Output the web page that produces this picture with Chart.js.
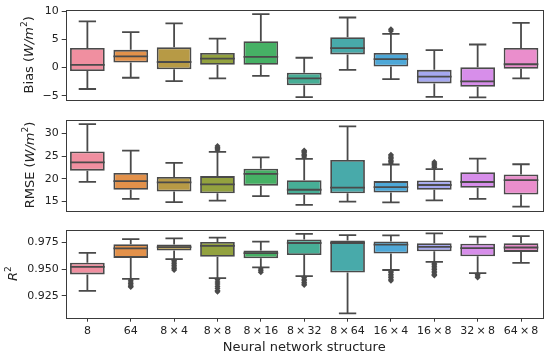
<!DOCTYPE html>
<html>
<head>
<meta charset="utf-8">
<script src="https://cdn.jsdelivr.net/npm/chart.js@4.4.0/dist/chart.umd.min.js"></script>
<style>
  body { margin: 0; background: #fff; }
  #wrap { position: relative; width: 550px; height: 359px; }
  canvas { position: absolute; left: 0; }
</style>
</head>
<body>
<div id="wrap">
  <canvas id="bias" width="550" height="110" style="top:0px"></canvas>
  <canvas id="rmse" width="550" height="110" style="top:110px"></canvas>
  <canvas id="r2" width="550" height="139" style="top:220px"></canvas>
</div>
<script>
const categories = ['8', '64', '8\u2009×\u20094', '8\u2009×\u20098', '8\u2009×\u200916', '8\u2009×\u200932',
    '8\u2009×\u200964', '16\u2009×\u20094', '16\u2009×\u20098', '32\u2009×\u20098', '64\u2009×\u20098']
const colors = ['#f08fa0', '#e3914a', '#b79a45', '#93a23f', '#46b165', '#47ae96',
    '#48aaaa', '#4ea8d8', '#a5a8f0', '#d78eea', '#ea8ecc']

// Bias (W/m2)
const biasLow = [-3.8, -1.8, -2.4, -1.9, -1.45, -5.25, -0.4, -2.05, -5.2, -5.3, -1.9]
const biasQ1 = [-0.6, 0.9, -0.3, 0.5, 0.5, -3.15, 2.35, 0.2, -2.8, -3.4, -0.2]
const biasMed = [0.5, 2.0, 1.0, 1.6, 1.9, -1.9, 3.45, 1.5, -1.6, -2.45, 0.6]
const biasQ3 = [3.5, 3.15, 3.6, 2.6, 4.7, -0.9, 5.4, 2.6, -0.4, 0.05, 3.5]
const biasHigh = [8.2, 6.3, 7.85, 5.15, 9.5, 1.75, 8.9, 6.0, 3.1, 4.1, 7.95]
const biasOut = [[], [], [], [], [], [], [], [6.5, 6.8], [], [], []]
const biasTicks = [-5, 0, 5, 10]

// RMSE (W/m2)
const rmseLow = [19.35, 15.6, 14.9, 15.2, 16.2, 14.3, 15.0, 14.85, 15.25, 15.6, 13.9]
const rmseQ1 = [21.8, 17.6, 17.2, 16.85, 18.5, 16.5, 16.85, 17.0, 17.6, 18.05, 16.55]
const rmseMed = [23.6, 19.5, 19.2, 18.8, 21.1, 17.6, 18.05, 18.2, 18.65, 19.3, 19.7]
const rmseQ3 = [26.0, 21.3, 20.4, 20.6, 22.2, 19.7, 24.15, 19.5, 19.65, 21.45, 20.95]
const rmseHigh = [32.0, 26.2, 23.5, 25.9, 24.7, 24.4, 31.5, 23.15, 22.15, 24.45, 23.2]
const rmseOut = [[], [], [], [26.3, 26.6, 26.9, 27.2], [], [24.8, 25.1, 25.4, 25.7, 26.0, 26.2], [],
    [23.5, 23.8, 24.1, 24.4, 24.7, 25.0, 25.3], [22.5, 22.8, 23.1, 23.4, 23.7], [], []]
const rmseTicks = [15, 20, 25, 30]

// R2
const r2Low = [0.9296, 0.9409, 0.9592, 0.9415, 0.9515, 0.9433, 0.9087, 0.9491, 0.9566, 0.9462, 0.9557]
const r2Q1 = [0.9450, 0.9604, 0.9672, 0.9615, 0.9601, 0.9630, 0.9468, 0.9645, 0.9666, 0.9619, 0.9660]
const r2Med = [0.9521, 0.9692, 0.9704, 0.9716, 0.9648, 0.9743, 0.9743, 0.9728, 0.9707, 0.9695, 0.9701]
const r2Q3 = [0.9559, 0.9731, 0.9728, 0.9752, 0.9672, 0.9775, 0.9766, 0.9757, 0.9740, 0.9737, 0.9740]
const r2High = [0.9651, 0.9779, 0.9787, 0.9793, 0.9755, 0.9828, 0.9817, 0.9814, 0.9832, 0.9802, 0.9808]
const r2Out = [[], [0.9395, 0.938, 0.9365, 0.935, 0.934, 0.9332],
    [0.958, 0.9565, 0.955, 0.9535, 0.952, 0.9505, 0.949],
    [0.940, 0.938, 0.936, 0.934, 0.932, 0.930, 0.9287],
    [0.950, 0.9485, 0.947],
    [0.942, 0.9405, 0.939, 0.9375, 0.936, 0.935], [],
    [0.948, 0.9465, 0.945, 0.9435, 0.942, 0.9405, 0.939],
    [0.9555, 0.954, 0.9525, 0.951, 0.9495, 0.948, 0.9465, 0.945, 0.944],
    [0.945, 0.9435, 0.942], []]
const r2Ticks = [0.925, 0.950, 0.975]

const FONT = '"DejaVu Sans", sans-serif'
const LINE = '#4a4a4a'

// whiskers, caps and medians drawn on top of the floating bars
const boxPlugin = {
    id: 'boxes',
    afterDatasetsDraw(chart, args, opts) {
        const ctx = chart.ctx
        const x = chart.scales.x, y = chart.scales.y
        const bar = chart.getDatasetMeta(0).data
        ctx.save()
        ctx.strokeStyle = LINE
        ctx.lineWidth = 1.8
        for (let i = 0; i < categories.length; i++) {
            const cx = x.getPixelForValue(i)
            const half = bar[i].width / 2
            const cap = half / 2
            const lo = y.getPixelForValue(opts.low[i]), q1 = y.getPixelForValue(opts.q1[i])
            const q3 = y.getPixelForValue(opts.q3[i]), hi = y.getPixelForValue(opts.high[i])
            const md = y.getPixelForValue(opts.med[i])
            ctx.beginPath()
            ctx.moveTo(cx, q1); ctx.lineTo(cx, lo)
            ctx.moveTo(cx, q3); ctx.lineTo(cx, hi)
            ctx.moveTo(cx - cap, lo); ctx.lineTo(cx + cap, lo)
            ctx.moveTo(cx - cap, hi); ctx.lineTo(cx + cap, hi)
            ctx.moveTo(cx - half, md); ctx.lineTo(cx + half, md)
            ctx.stroke()
        }
        ctx.restore()
    }
}

const framePlugin = {
    id: 'frame',
    afterDraw(chart) {
        const a = chart.chartArea, ctx = chart.ctx
        ctx.save()
        ctx.strokeStyle = '#3a3a3a'
        ctx.lineWidth = 1
        ctx.strokeRect(Math.round(a.left) + 0.5, Math.round(a.top) + 0.5,
            Math.round(a.right - a.left), Math.round(a.bottom - a.top))
        ctx.restore()
    }
}

// y title with italic pieces, like matplotlib mathtext
const ytitlePlugin = {
    id: 'ytitle',
    afterDraw(chart, args, opts) {
        const ctx = chart.ctx, a = chart.chartArea
        const fontOf = p => (p[1] ? 'italic ' : '') + (p[2] ? '9px ' : '13px ') + FONT
        ctx.save()
        let w = 0
        opts.parts.forEach(p => { ctx.font = fontOf(p); w += ctx.measureText(p[0]).width })
        ctx.translate(opts.x, (a.top + a.bottom) / 2)
        ctx.rotate(-Math.PI / 2)
        ctx.fillStyle = '#222'
        ctx.textBaseline = 'middle'
        let pos = -w / 2
        opts.parts.forEach(p => {
            ctx.font = fontOf(p)
            ctx.fillText(p[0], pos, p[2] ? -5 : 0)
            pos += ctx.measureText(p[0]).width
        })
        ctx.restore()
    }
}

function fmt(decimals) {
    return v => {
        const s = Math.abs(v).toFixed(decimals)
        return v < 0 ? '\u2212' + s : s
    }
}

function panel(id, p) {
    const points = []
    p.out.forEach((vals, i) => vals.forEach(v => points.push({ x: categories[i], y: v })))
    const boxes = p.q1.map((v, i) => [v, p.q3[i]])
    new Chart(document.getElementById(id), {
        type: 'bar',
        data: {
            labels: categories,
            datasets: [{
                data: boxes,
                backgroundColor: colors,
                borderColor: LINE,
                borderWidth: 1.8,
                borderSkipped: false,
                barPercentage: 0.8,
                categoryPercentage: 1
            }, {
                type: 'scatter',
                data: points,
                pointStyle: 'rectRot',
                radius: 3,
                backgroundColor: LINE,
                borderColor: LINE,
                borderWidth: 0
            }]
        },
        options: {
            responsive: false,
            animation: false,
            layout: { padding: p.padding },
            plugins: {
                legend: { display: false },
                tooltip: { enabled: false },
                boxes: { low: p.low, q1: p.q1, med: p.med, q3: p.q3, high: p.high },
                ytitle: { parts: p.title, x: p.titleX }
            },
            scales: {
                x: {
                    type: 'category',
                    display: p.showX,
                    offset: true,
                    grid: { offset: false, drawOnChartArea: false, tickLength: 4, color: '#3a3a3a' },
                    border: { display: false },
                    ticks: { font: { family: FONT, size: 11 }, color: '#222', padding: 3, maxRotation: 0, autoSkip: false },
                    title: {
                        display: p.showX, text: 'Neural network structure',
                        font: { family: FONT, size: 13 }, color: '#222', padding: { top: 0, bottom: 4 }
                    },
                    afterFit: s => { if (p.showX) s.height = 41.3 }
                },
                y: {
                    min: p.min,
                    max: p.max,
                    afterBuildTicks: s => { s.ticks = p.ticks.map(v => ({ value: v })) },
                    afterFit: s => { s.width = 65.7 },
                    grid: { drawOnChartArea: false, tickLength: 4, color: '#3a3a3a' },
                    border: { display: false },
                    ticks: { font: { family: FONT, size: 11 }, color: '#222', padding: 3, callback: fmt(p.decimals) }
                }
            }
        },
        plugins: [boxPlugin, framePlugin, ytitlePlugin]
    })
}

panel('bias', {
    low: biasLow, q1: biasQ1, med: biasMed, q3: biasQ3, high: biasHigh, out: biasOut,
    ticks: biasTicks, min: -5.75, max: 10.3, decimals: 0,
    padding: { top: 8.5, bottom: 10, left: 0, right: 7.3 }, showX: false,
    title: [['Bias (', 0, 0], ['W/m', 1, 0], ['2', 0, 1], [')', 0, 0]], titleX: 30
})
panel('rmse', {
    low: rmseLow, q1: rmseQ1, med: rmseMed, q3: rmseQ3, high: rmseHigh, out: rmseOut,
    ticks: rmseTicks, min: 13.07, max: 33.0, decimals: 0,
    padding: { top: 6.7, bottom: 0.7, left: 0, right: 7.3 }, showX: false,
    title: [['RMSE (', 0, 0], ['W/m', 1, 0], ['2', 0, 1], [')', 0, 0]], titleX: 31
})
panel('r2', {
    low: r2Low, q1: r2Q1, med: r2Med, q3: r2Q3, high: r2High, out: r2Out,
    ticks: r2Ticks, min: 0.9046, max: 0.9868, decimals: 3,
    padding: { top: 5, bottom: 0, left: 0, right: 7.3 }, showX: true,
    title: [['R', 1, 0], ['2', 0, 1]], titleX: 14
})
</script>
</body>
</html>
